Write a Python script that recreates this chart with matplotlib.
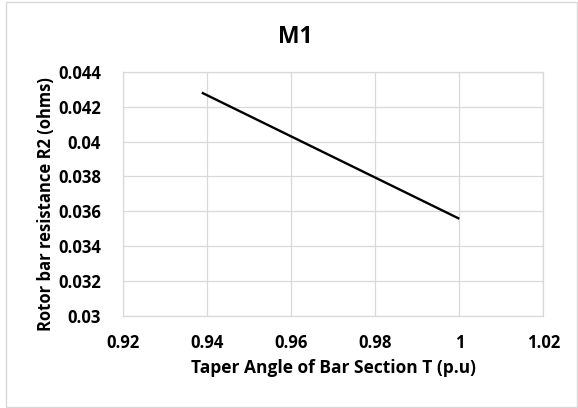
import matplotlib
matplotlib.use("Agg")
import matplotlib.pyplot as plt
from matplotlib.patches import Rectangle

# data
taper_angle = [0.9387, 1.0]
rotor_r2 = [0.0428, 0.03558]
x_ticks = [0.92, 0.94, 0.96, 0.98, 1.0, 1.02]
x_tick_labels = ["0.92", "0.94", "0.96", "0.98", "1", "1.02"]
y_ticks = [0.03, 0.032, 0.034, 0.036, 0.038, 0.04, 0.042, 0.044]
y_tick_labels = ["0.03", "0.032", "0.034", "0.036", "0.038", "0.04", "0.042", "0.044"]

plt.rcParams['font.family'] = ['Open Sans', 'DejaVu Sans']
plt.rcParams['font.weight'] = 'bold'

grid_col = '#d9d9d9'

fig = plt.figure(figsize=(5.78, 4.08), dpi=100)
ax = fig.add_axes([123.3 / 578, 1 - 316.2 / 408, 420 / 578, 244.5 / 408])

ax.plot(taper_angle, rotor_r2, color='black', linewidth=1.7, solid_capstyle='butt')

ax.set_xlim(0.92, 1.02)
ax.set_ylim(0.03, 0.044)
ax.set_xticks(x_ticks)
ax.set_xticklabels(x_tick_labels)
ax.set_yticks(y_ticks)
ax.set_yticklabels(y_tick_labels)
ax.tick_params(length=0, labelsize=12, colors='black', pad=13)
ax.tick_params(axis='y', pad=16)
for lab in ax.get_xticklabels() + ax.get_yticklabels():
    lab.set_fontweight('bold')

ax.grid(True, color=grid_col, linewidth=0.9)
ax.set_axisbelow(True)
for s in ax.spines.values():
    s.set_color(grid_col)
    s.set_linewidth(0.9)

ax.set_xlabel('Taper Angle of Bar Section T (p.u)', fontsize=12.5, fontweight='bold', labelpad=5)
ax.set_ylabel('Rotor bar resistance R2 (ohms)', fontsize=12, fontweight='bold')
ax.yaxis.set_label_coords(-0.163, 0.46)
fig.text(295 / 578, 1 - 37 / 408, 'M1', fontsize=16.5, fontweight='bold', ha='center', va='center')

# outer chart border
fig.patches.append(Rectangle((6 / 578, 1.5 / 408), 570.5 / 578, 405 / 408,
                             transform=fig.transFigure, fill=False,
                             edgecolor=grid_col, linewidth=1))

fig.savefig('out.png', dpi=100)
